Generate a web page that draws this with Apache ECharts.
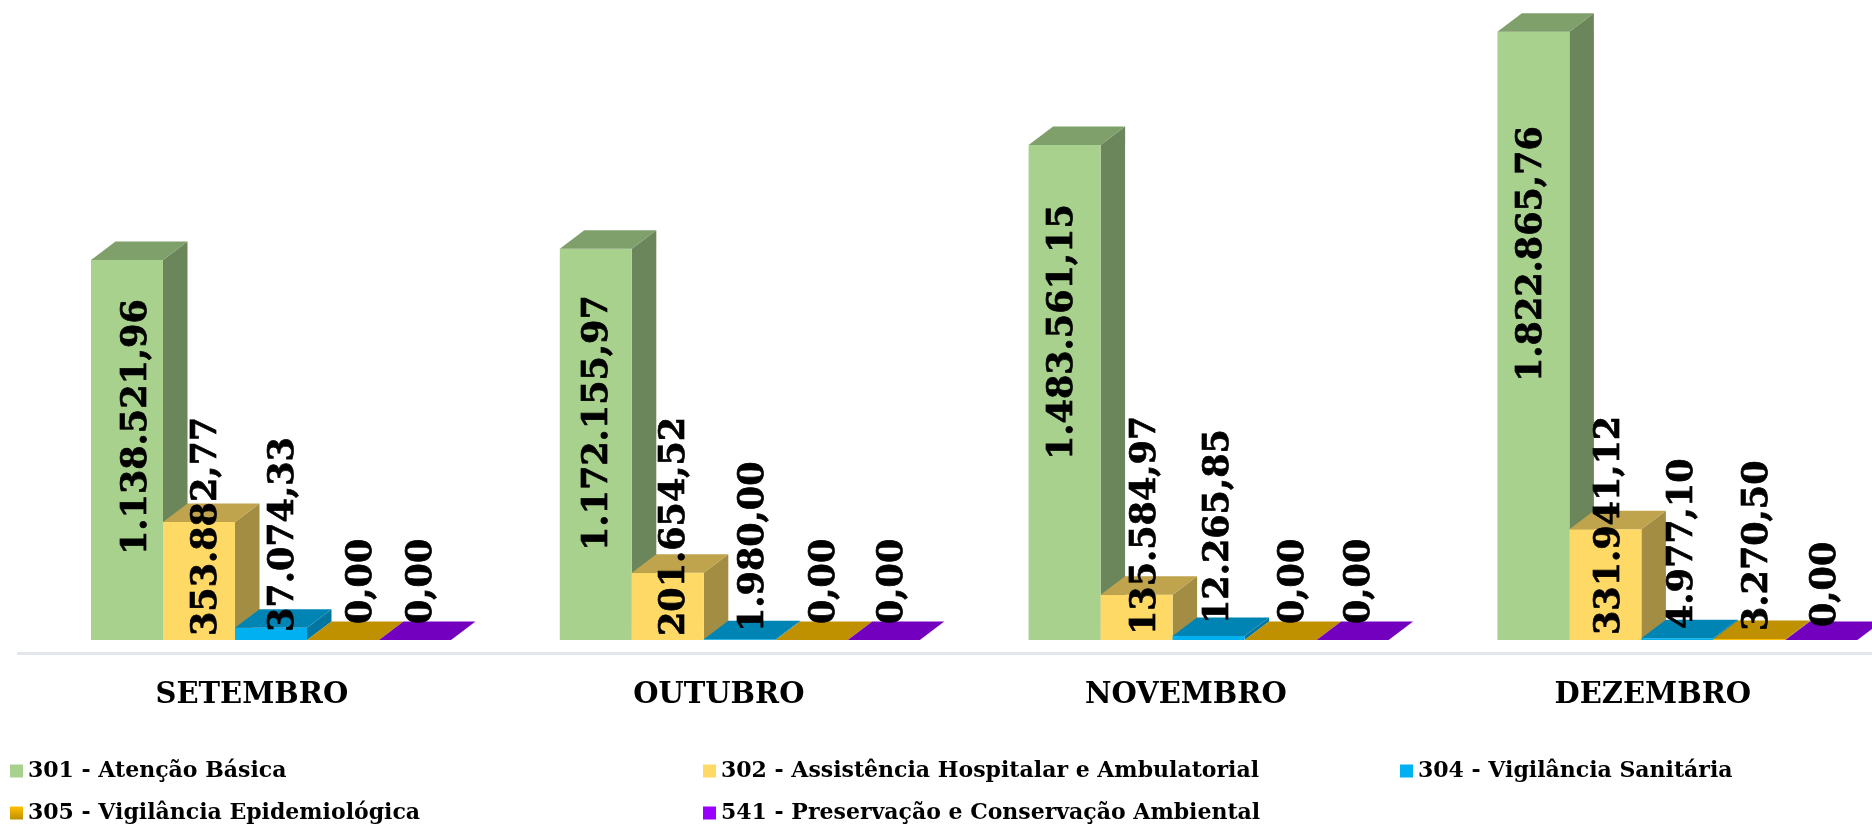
<!DOCTYPE html>
<html>
<head>
<meta charset="utf-8">
<style>
  html, body { margin: 0; background: #fff; }
  #chart { width: 1872px; height: 825px; }
</style>
<script src="https://cdn.jsdelivr.net/npm/echarts@6/dist/echarts.min.js"></script>
</head>
<body>
<div id="chart"></div>
<script>
const months = ['SETEMBRO', 'OUTUBRO', 'NOVEMBRO', 'DEZEMBRO']

const names = [
  '301 - Atenção Básica',
  '302 - Assistência Hospitalar e Ambulatorial',
  '304 - Vigilância Sanitária',
  '305 - Vigilância Epidemiológica',
  '541 - Preservação e Conservação Ambiental',
]

const atencaoBasica = [1138521.96, 1172155.97, 1483561.15, 1822865.76]
const assistencia = [353882.77, 201654.52, 135584.97, 331941.12]
const vigSanitaria = [37074.33, 1980.0, 12265.85, 4977.1]
const vigEpidemio = [0, 0, 0, 3270.5]
const preservacao = [0, 0, 0, 0]
const values = [atencaoBasica, assistencia, vigSanitaria, vigEpidemio, preservacao]

// front, side, top
const shades = [
  ['#A9D18E', '#6B865A', '#7F9F6B'],
  ['#FFD966', '#A38D42', '#BFA34D'],
  ['#00B0F0', '#0076A0', '#0084B4'],
  ['#FFC000', '#A37B00', '#BF9000'],
  ['#9900FF', '#6200A3', '#7300BF'],
]

// the value labels were placed by hand in the original: px per month / series
const labelShiftX = [
  [10, 8, 13, 19, 7],
  [2, 7, 14, 13, 9],
  [-2, 9, 10, 13, 7],
  [-1, 5, 6, 9, 5],
]
const labelLift = [
  [85, 4, 8, 16, 16],
  [89, 4, 8, 16, 16],
  [180, 5, 16, 16, 16],
  [258, 5, 11, 9, 13],
]

const BAR = 72 / 468.8 // bar width as a share of the band
const DEPTH_X = 24.5
const DEPTH_Y = 18.5
const GROUP_SHIFT = 19.2
const FONT = '"DejaVu Serif", serif'

const fmt = (v) => v.toLocaleString('pt-BR', { minimumFractionDigits: 2, maximumFractionDigits: 2 })

function barLeft(api, cat, s) {
  const band = api.size([1, 0])[0]
  const center = api.coord([cat, 0])[0]
  return center + GROUP_SHIFT + (s - 2.5) * band * BAR
}

function renderBar(s) {
  return (params, api) => {
    const cat = api.value(0)
    const band = api.size([1, 0])[0]
    const w = band * BAR
    const x = barLeft(api, cat, s)
    const y0 = api.coord([cat, 0])[1]
    const y1 = api.coord([cat, api.value(1)])[1]
    const [front, side, top] = shades[s]
    return {
      type: 'group',
      children: [
        { type: 'polygon', shape: { points: [[x + w, y1], [x + w + DEPTH_X, y1 - DEPTH_Y], [x + w + DEPTH_X, y0 - DEPTH_Y], [x + w, y0]] }, style: { fill: side } },
        { type: 'rect', shape: { x, y: y1, width: w, height: y0 - y1 }, style: { fill: front } },
        { type: 'polygon', shape: { points: [[x, y1], [x + DEPTH_X, y1 - DEPTH_Y], [x + w + DEPTH_X, y1 - DEPTH_Y], [x + w, y1]] }, style: { fill: top } },
      ],
    }
  }
}

function renderLabel(params, api) {
  const cat = api.value(0)
  const s = api.value(1)
  const band = api.size([1, 0])[0]
  const x = barLeft(api, cat, s) + band * BAR / 2 + labelShiftX[cat][s]
  const y = api.coord([cat, 0])[1] - labelLift[cat][s]
  return {
    type: 'text',
    x,
    y,
    rotation: Math.PI / 2,
    style: {
      text: fmt(values[s][cat]),
      font: 'bold 35px ' + FONT,
      fill: '#000',
      stroke: '#000',
      lineWidth: 0.7,
      textAlign: 'left',
      textVerticalAlign: 'middle',
    },
  }
}

const barSeries = names.map((name, s) => ({
  name,
  type: 'custom',
  renderItem: renderBar(s),
  itemStyle: { color: shades[s][0] },
  encode: { x: 0, y: 1 },
  data: values[s].map((v, i) => [i, v]),
  z: 2,
}))

const labelData = []
values.forEach((row, s) => row.forEach((v, i) => labelData.push([i, s])))

const legendSlots = [
  [10, 760],
  [703, 760],
  [1400, 760],
  [10, 802],
  [703, 802],
]

// 305 has a shaded swatch in the original legend
const legendColors = {
  [names[3]]: new echarts.graphic.LinearGradient(0, 0, 0, 1, [
    { offset: 0, color: '#FFC000' },
    { offset: 1, color: '#BF9000' },
  ]),
}

const chart = echarts.init(document.getElementById('chart'))
chart.setOption({
  backgroundColor: '#fff',
  animation: false,
  // month labels sit on a slightly tighter pitch than the bars, so they get their own grid
  grid: [
    { left: 17.4, width: 1875.2, bottom: 185, height: 634, outerBoundsMode: 'none' },
    { left: 18.3, width: 1868, bottom: 185, height: 634, outerBoundsMode: 'none' },
  ],
  xAxis: [
    { type: 'category', gridIndex: 0, data: months, show: false },
    {
      type: 'category',
      gridIndex: 1,
      data: months,
      offset: 13,
      axisLine: { onZero: false, lineStyle: { color: '#E3E6EC', width: 3 } },
      axisTick: { show: false },
      axisLabel: {
        color: '#000',
        fontFamily: FONT,
        fontWeight: 'bold',
        fontSize: 29,
        margin: 28,
        interval: 0,
        hideOverlap: false,
      },
    },
  ],
  yAxis: [
    { type: 'value', gridIndex: 0, min: 0, max: 1900000, show: false },
    { type: 'value', gridIndex: 1, min: 0, max: 1900000, show: false },
  ],
  legend: names.map((name, s) => ({
    data: [legendColors[name] ? { name, itemStyle: { color: legendColors[name] } } : name],
    left: legendSlots[s][0],
    top: legendSlots[s][1],
    padding: 0,
    itemWidth: 13,
    itemHeight: 13,
    icon: 'rect',
    selectedMode: false,
    textStyle: { color: '#000', fontFamily: FONT, fontWeight: 'bold', fontSize: 22 },
  })),
  series: [
    ...barSeries,
    {
      type: 'custom',
      renderItem: renderLabel,
      encode: { x: 0 },
      data: labelData,
      z: 3,
      silent: true,
    },
  ],
})
</script>
</body>
</html>
